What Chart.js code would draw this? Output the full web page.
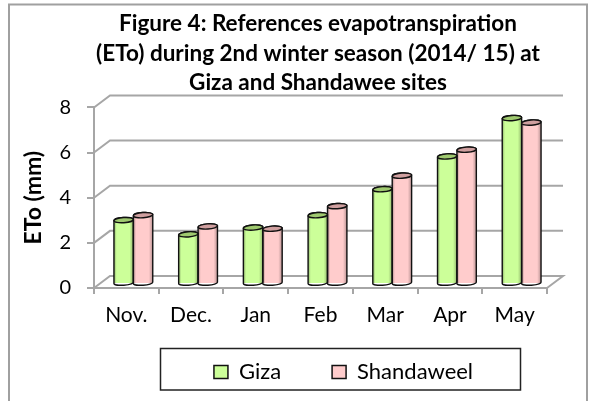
<!DOCTYPE html>
<html>
<head>
<meta charset="utf-8">
<style>
  html, body { margin: 0; background: #fff; }
  canvas { display: block; }
</style>
<script src="https://cdn.jsdelivr.net/npm/chart.js@4"></script>
</head>
<body>
<canvas id="chart" width="595" height="401"></canvas>
<script>
const categories = ['Nov.', 'Dec.', 'Jan', 'Feb', 'Mar', 'Apr', 'May']
const giza = [2.83, 2.2, 2.5, 3.05, 4.2, 5.65, 7.35]
const shandaweel = [3.05, 2.55, 2.45, 3.45, 4.8, 5.95, 7.15]
const titleLines = [
    'Figure 4: References evapotranspiration',
    '(ETo) during 2nd winter season (2014/ 15) at',
    'Giza and Shandawee sites'
]

const GREY = '#a6a6a6'
const DEPTH_X = 16
const DEPTH_Y = 12
const BAR_X = 7
const BAR_Y = -4

// fake 3D walls, drawn behind the bars
function drawWalls(chart) {
    const { ctx, scales: { x, y } } = chart
    const left = x.left
    const right = x.right
    ctx.save()
    ctx.strokeStyle = GREY
    ctx.lineWidth = 2
    y.ticks.forEach((tick, i) => {
        const py = y.getPixelForTick(i)
        ctx.beginPath()
        ctx.moveTo(left, py)
        ctx.lineTo(left + DEPTH_X, py - DEPTH_Y)
        ctx.lineTo(right + DEPTH_X, py - DEPTH_Y)
        if (tick.value === 0) ctx.lineTo(right, py)
        ctx.stroke()
    })
    ctx.restore()
}

function drawCylinder(ctx, bar, top) {
    const w = bar.width
    const x0 = bar.x - w / 2
    const x1 = bar.x + w / 2
    const rx = w / 2
    const tilt = -0.07

    const body = () => {
        ctx.beginPath()
        ctx.moveTo(x0, bar.y)
        ctx.lineTo(x0, bar.base)
        ctx.ellipse(bar.x, bar.base, rx, 2.2, tilt, Math.PI, 0, true)
        ctx.lineTo(x1, bar.y)
        ctx.ellipse(bar.x, bar.y, rx, 2.6, tilt, 0, Math.PI, true)
        ctx.closePath()
    }

    const grad = ctx.createLinearGradient(x0, 0, x1, 0)
    grad.addColorStop(0, 'rgba(0,0,0,0.3)')
    grad.addColorStop(0.14, 'rgba(0,0,0,0)')
    grad.addColorStop(0.8, 'rgba(0,0,0,0)')
    grad.addColorStop(1, 'rgba(0,0,0,0.28)')
    body()
    ctx.fillStyle = grad
    ctx.fill()

    ctx.strokeStyle = '#111'
    ctx.lineWidth = 1.4
    body()
    ctx.stroke()

    ctx.beginPath()
    ctx.ellipse(bar.x, bar.y, rx, 2.6, tilt, 0, Math.PI * 2)
    ctx.fillStyle = top
    ctx.fill()
    ctx.stroke()
}

const fake3d = {
    id: 'fake3d',
    beforeDatasetsDraw(chart) {
        drawWalls(chart)
        chart.ctx.save()
        chart.ctx.translate(BAR_X, BAR_Y)
    },
    afterDatasetsDraw(chart) {
        const ctx = chart.ctx
        chart.data.datasets.forEach((ds, i) => {
            chart.getDatasetMeta(i).data.forEach(bar => {
                drawCylinder(ctx, bar, ds.topColor)
            })
        })
        ctx.restore()
    },
    beforeDraw(chart) {
        const { ctx, width, height } = chart
        ctx.save()
        // outer frame, bottom edge runs off the picture
        ctx.strokeStyle = '#a0a0a0'
        ctx.lineWidth = 2
        ctx.strokeRect(9, 4.5, width - 17, height + 10)
        // legend frame
        ctx.strokeStyle = '#222'
        ctx.lineWidth = 1.5
        ctx.strokeRect(160.5, 348.5, 360, 41.5)
        ctx.restore()
    },
    afterLayout(chart) {
        chart.legend.left += 60
        chart.legend.right += 60
        chart.legend.top -= 28
        chart.legend.bottom -= 28
        chart.titleBlock.left += 34.5
        chart.titleBlock.right += 34.5
    }
}

new Chart(document.getElementById('chart'), {
    type: 'bar',
    data: {
        labels: categories,
        datasets: [
            { label: 'Giza', data: giza, backgroundColor: '#ccff99', borderWidth: 0, topColor: '#9fc96f' },
            { label: 'Shandaweel', data: shandaweel, backgroundColor: '#ffcccc', borderWidth: 0, topColor: '#cf9f9f' }
        ]
    },
    plugins: [fake3d],
    options: {
        responsive: false,
        animation: false,
        layout: { padding: { left: 20, right: 48, top: 0, bottom: -20 } },
        datasets: { bar: { categoryPercentage: 0.6, barPercentage: 1, clip: false } },
        scales: {
            x: {
                afterFit(scale) { scale.height = 50 },
                grid: { drawOnChartArea: false, color: GREY, lineWidth: 2, tickLength: 6 },
                border: { color: GREY, width: 2 },
                ticks: { color: '#000', font: { family: 'Lato', size: 21 }, padding: 9, maxRotation: 0 }
            },
            y: {
                min: 0,
                max: 8,
                afterFit(scale) { scale.width = 74 },
                grid: { drawOnChartArea: false, color: GREY, lineWidth: 2, tickLength: 7 },
                border: { color: GREY, width: 2 },
                ticks: { stepSize: 2, color: '#000', font: { family: 'Lato', size: 20 }, padding: 16 },
                title: { display: true, text: 'ETo (mm)', color: '#000', font: { family: 'Lato', size: 23, weight: 'bold' }, padding: 0 }
            }
        },
        plugins: {
            title: {
                display: true,
                text: titleLines,
                color: '#000',
                font: { family: 'Lato', size: 22.5, weight: 'bold', lineHeight: 1.31 },
                padding: { top: 9.5, bottom: 9.5 }
            },
            legend: {
                position: 'bottom',
                labels: {
                    boxWidth: 14,
                    boxHeight: 13,
                    color: '#000',
                    padding: 51,
                    font: { family: 'Lato', size: 22 },
                    generateLabels(chart) {
                        return chart.data.datasets.map((ds, i) => ({
                            text: ds.label,
                            fillStyle: ds.backgroundColor,
                            strokeStyle: '#111',
                            lineWidth: 1.5,
                            datasetIndex: i
                        }))
                    }
                }
            },
            tooltip: { enabled: false }
        }
    }
})
</script>
</body>
</html>
